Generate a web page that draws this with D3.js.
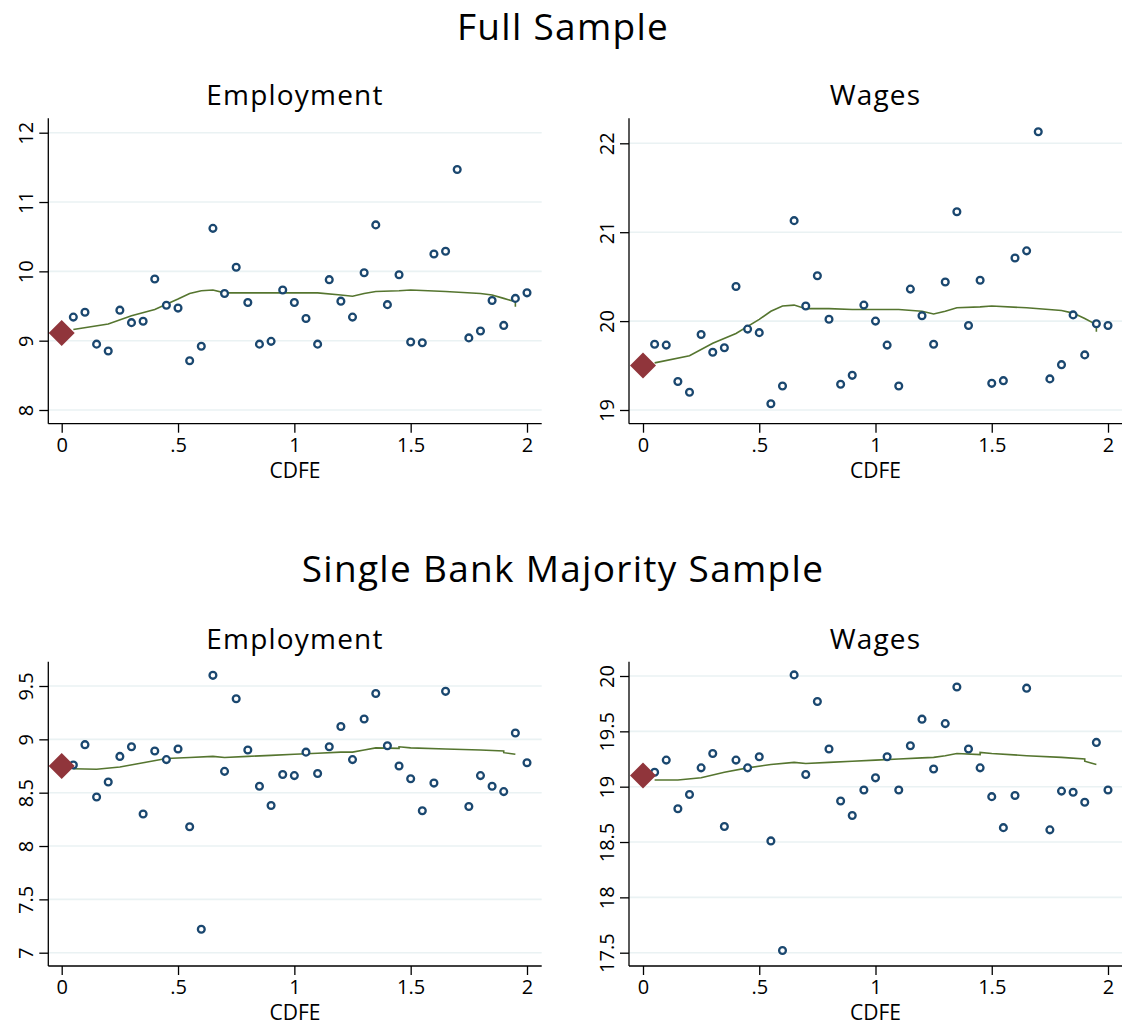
<!DOCTYPE html>
<html><head><meta charset="utf-8">
<script src="https://cdn.jsdelivr.net/npm/d3@7"></script>
<style>body{margin:0;background:#fff} text{font-family:"Open Sans",sans-serif;fill:#000}</style>
</head><body><svg id="c" width="1122" height="1025"></svg>
<script>
// ---------- DATA ----------
const cdfe = [0.05,0.10,0.15,0.20,0.25,0.30,0.35,0.40,0.45,0.50,0.55,0.60,0.65,0.70,0.75,0.80,0.85,0.90,0.95,1.00,
              1.05,1.10,1.15,1.20,1.25,1.30,1.35,1.40,1.45,1.50,1.55,1.60,1.65,1.70,1.75,1.80,1.85,1.90,1.95,2.00];

const fullEmp = [9.34,9.41,8.95,8.85,9.44,9.26,9.28,9.89,9.51,9.47,8.71,8.92,10.62,9.68,10.06,9.55,8.95,8.99,9.73,9.55,
                 9.32,8.95,9.88,9.57,9.34,9.98,10.67,9.52,9.95,8.98,8.97,10.25,10.29,11.47,9.04,9.14,9.58,9.22,9.61,9.69];
const fullWage = [19.74,19.73,19.32,19.20,19.85,19.65,19.70,20.39,19.91,19.87,19.07,19.27,21.13,20.17,20.51,20.02,19.29,19.39,20.18,20.00,
                  19.73,19.27,20.36,20.06,19.74,20.44,21.23,19.95,20.46,19.30,19.33,20.71,20.79,22.13,19.35,19.51,20.07,19.62,19.97,19.95];
const singleEmp = [8.76,8.95,8.46,8.60,8.84,8.93,8.30,8.89,8.81,8.91,8.18,7.22,9.60,8.70,9.38,8.90,8.56,8.38,8.67,8.66,
                   8.88,8.68,8.93,9.12,8.81,9.19,9.43,8.94,8.75,8.63,8.33,8.59,9.45,null,8.37,8.66,8.56,8.51,9.06,8.78];
const singleWage = [19.13,19.24,18.80,18.93,19.17,19.30,18.64,19.24,19.17,19.27,18.51,17.52,20.01,19.11,19.77,19.34,18.87,18.74,18.97,19.08,
                    19.27,18.97,19.37,19.61,19.16,19.57,19.90,19.34,19.17,18.91,18.63,18.92,19.89,null,18.61,18.96,18.95,18.86,19.40,18.97];

// value at CDFE = 0 (diamond)
const baseline = {fullEmp: 9.11, fullWage: 19.50, singleEmp: 8.75, singleWage: 19.10};

// smoothed fit lines
const fitFullX = [0.05,0.20,0.30,0.40,0.50,0.55,0.60,0.65,0.70,0.80,0.90,1.00,1.10,1.20,1.25,1.30,1.35,1.45,1.50,1.65,1.80,1.85,1.90,1.95,1.95];
const fitFullEmp = [9.16,9.24,9.36,9.45,9.60,9.68,9.72,9.73,9.69,9.69,9.69,9.69,9.69,9.66,9.64,9.68,9.71,9.72,9.73,9.71,9.68,9.66,9.61,9.56,9.49];
const fitFullWage = [19.53,19.61,19.75,19.86,20.02,20.11,20.17,20.18,20.14,20.14,20.13,20.13,20.13,20.11,20.08,20.11,20.15,20.16,20.17,20.15,20.12,20.09,20.03,19.96,19.88];
const fitSingleX = [0.05,0.15,0.25,0.35,0.45,0.55,0.65,0.70,0.80,0.90,1.00,1.10,1.20,1.25,1.30,1.35,1.45,1.45,1.50,1.65,1.80,1.90,1.90,1.95];
const fitSingleEmp = [8.725,8.72,8.74,8.78,8.82,8.83,8.84,8.83,8.84,8.85,8.86,8.87,8.88,8.88,8.90,8.92,8.915,8.93,8.92,8.91,8.90,8.89,8.875,8.86];
const fitSingleWage = [19.06,19.06,19.08,19.13,19.17,19.20,19.22,19.21,19.22,19.23,19.24,19.25,19.26,19.265,19.28,19.30,19.29,19.31,19.30,19.28,19.265,19.25,19.23,19.20];

const xTicks = [0,0.5,1,1.5,2];
const xTickLabels = ["0",".5","1","1.5","2"];
const yTicksFullEmp = [8,9,10,11,12];
const yTicksFullWage = [19,20,21,22];
const yTicksSingleEmp = [7,7.5,8,8.5,9,9.5];
const yTicksSingleWage = [17.5,18,18.5,19,19.5,20];
const yLabelsSingle = ["7","7.5","8","8.5","9","9.5"];
const yLabelsSingleWage = ["17.5","18","18.5","19","19.5","20"];

const sectionTitles = ["Full Sample","Single Bank Majority Sample"];
const panelTitles = ["Employment","Wages"];
const xTitle = "CDFE";

// ---------- STYLE / LAYOUT ----------
const C = {pt:"#1a476f", dia:"#90353b", fit:"#55752f", grid:"#eaf2f3", axis:"#000"};
const svg = d3.select("#c");

// diamond symbol type: size = half-diagonal squared
const diamondType = {draw(ctx, size){ const r = Math.sqrt(size);
  ctx.moveTo(0,-r); ctx.lineTo(r,0); ctx.lineTo(0,r); ctx.lineTo(-r,0); ctx.closePath(); }};

const panels = [
  {left:48.3, right:541.7, top:118.3, bottom:423.7, x0:61.7, x2:527, yd:[8,12], yr:[410,132.7],
   vals:fullEmp, base:baseline.fullEmp, fx:fitFullX, fy:fitFullEmp, ticks:yTicksFullEmp, labels:yTicksFullEmp.map(String), title:panelTitles[0]},
  {left:629, right:1122, top:118.3, bottom:423.7, x0:643, x2:1108, yd:[19,22], yr:[410,143.3],
   vals:fullWage, base:baseline.fullWage, fx:fitFullX, fy:fitFullWage, ticks:yTicksFullWage, labels:yTicksFullWage.map(String), title:panelTitles[1]},
  {left:48.3, right:541.7, top:661.7, bottom:966, x0:61.7, x2:527, yd:[7,9.5], yr:[952.7,686],
   vals:singleEmp, base:baseline.singleEmp, fx:fitSingleX, fy:fitSingleEmp, ticks:yTicksSingleEmp, labels:yLabelsSingle, title:panelTitles[0]},
  {left:629, right:1122, top:661.7, bottom:966, x0:643, x2:1108, yd:[17.5,20], yr:[952.7,676],
   vals:singleWage, base:baseline.singleWage, fx:fitSingleX, fy:fitSingleWage, ticks:yTicksSingleWage, labels:yLabelsSingleWage, title:panelTitles[1]}
];

svg.append("text").attr("x",563).attr("y",40).attr("text-anchor","middle").attr("font-size",37)
  .attr("letter-spacing",1.3).text(sectionTitles[0]);
svg.append("text").attr("x",563).attr("y",582).attr("text-anchor","middle").attr("font-size",37)
  .attr("letter-spacing",1.3).text(sectionTitles[1]);

panels.forEach(p => {
  const g = svg.append("g");
  const x = d3.scaleLinear().domain([0,2]).range([p.x0,p.x2]);
  const y = d3.scaleLinear().domain(p.yd).range(p.yr);

  // gridlines
  g.selectAll("line.grid").data(p.ticks).join("line")
    .attr("x1",p.left).attr("x2",p.right)
    .attr("y1",d=>y(d)).attr("y2",d=>y(d))
    .attr("stroke",C.grid).attr("stroke-width",1.6);

  // y axis
  const ya = g.append("g").attr("transform",`translate(${p.left},0)`)
    .call(d3.axisLeft(y).tickValues(p.ticks).tickFormat((d,i)=>p.labels[i]).tickSize(9).tickPadding(4));
  ya.select(".domain").attr("d",`M0,${p.top}V${p.bottom}`).attr("stroke",C.axis).attr("stroke-width",1.3);
  ya.selectAll(".tick line").attr("stroke",C.axis).attr("stroke-width",1.3);
  ya.selectAll(".tick text").attr("font-size",20).attr("font-family","Open Sans").attr("fill","#000")
    .attr("text-anchor","middle").attr("x",0).attr("dy",0)
    .attr("transform","translate(-22,0) rotate(-90)").attr("y",7);

  // x axis
  const xa = g.append("g").attr("transform",`translate(0,${p.bottom})`)
    .call(d3.axisBottom(x).tickValues(xTicks).tickFormat((d,i)=>xTickLabels[i]).tickSize(9).tickPadding(5));
  xa.select(".domain").attr("d",`M${p.left},0H${p.right}`).attr("stroke",C.axis).attr("stroke-width",1.3);
  xa.selectAll(".tick line").attr("stroke",C.axis).attr("stroke-width",1.3);
  xa.selectAll(".tick text").attr("font-size",20).attr("font-family","Open Sans").attr("fill","#000");

  // titles
  g.append("text").attr("x",(p.left+p.right)/2).attr("y",p.top-13).attr("text-anchor","middle")
    .attr("font-size",28).attr("letter-spacing",1.2).text(p.title);
  g.append("text").attr("x",(p.left+p.right)/2).attr("y",p.bottom+54).attr("text-anchor","middle")
    .attr("font-size",21).text(xTitle);

  // fit line
  const line = d3.line().x(d=>x(d[0])).y(d=>y(d[1]));
  g.append("path").datum(p.fx.map((v,i)=>[v,p.fy[i]]))
    .attr("d",line).attr("fill","none").attr("stroke",C.fit).attr("stroke-width",1.6);

  // points
  g.selectAll("circle.pt").data(cdfe.map((v,i)=>[v,p.vals[i]]).filter(d=>d[1]!==null)).join("circle")
    .attr("cx",d=>x(d[0])).attr("cy",d=>y(d[1])).attr("r",3.4)
    .attr("fill","#fff").attr("stroke",C.pt).attr("stroke-width",2.3);

  // diamond
  g.append("path").attr("d",d3.symbol().type(diamondType).size(169)())
    .attr("transform",`translate(${x(0)},${y(p.base)})`).attr("fill",C.dia);
});
</script></body></html>
